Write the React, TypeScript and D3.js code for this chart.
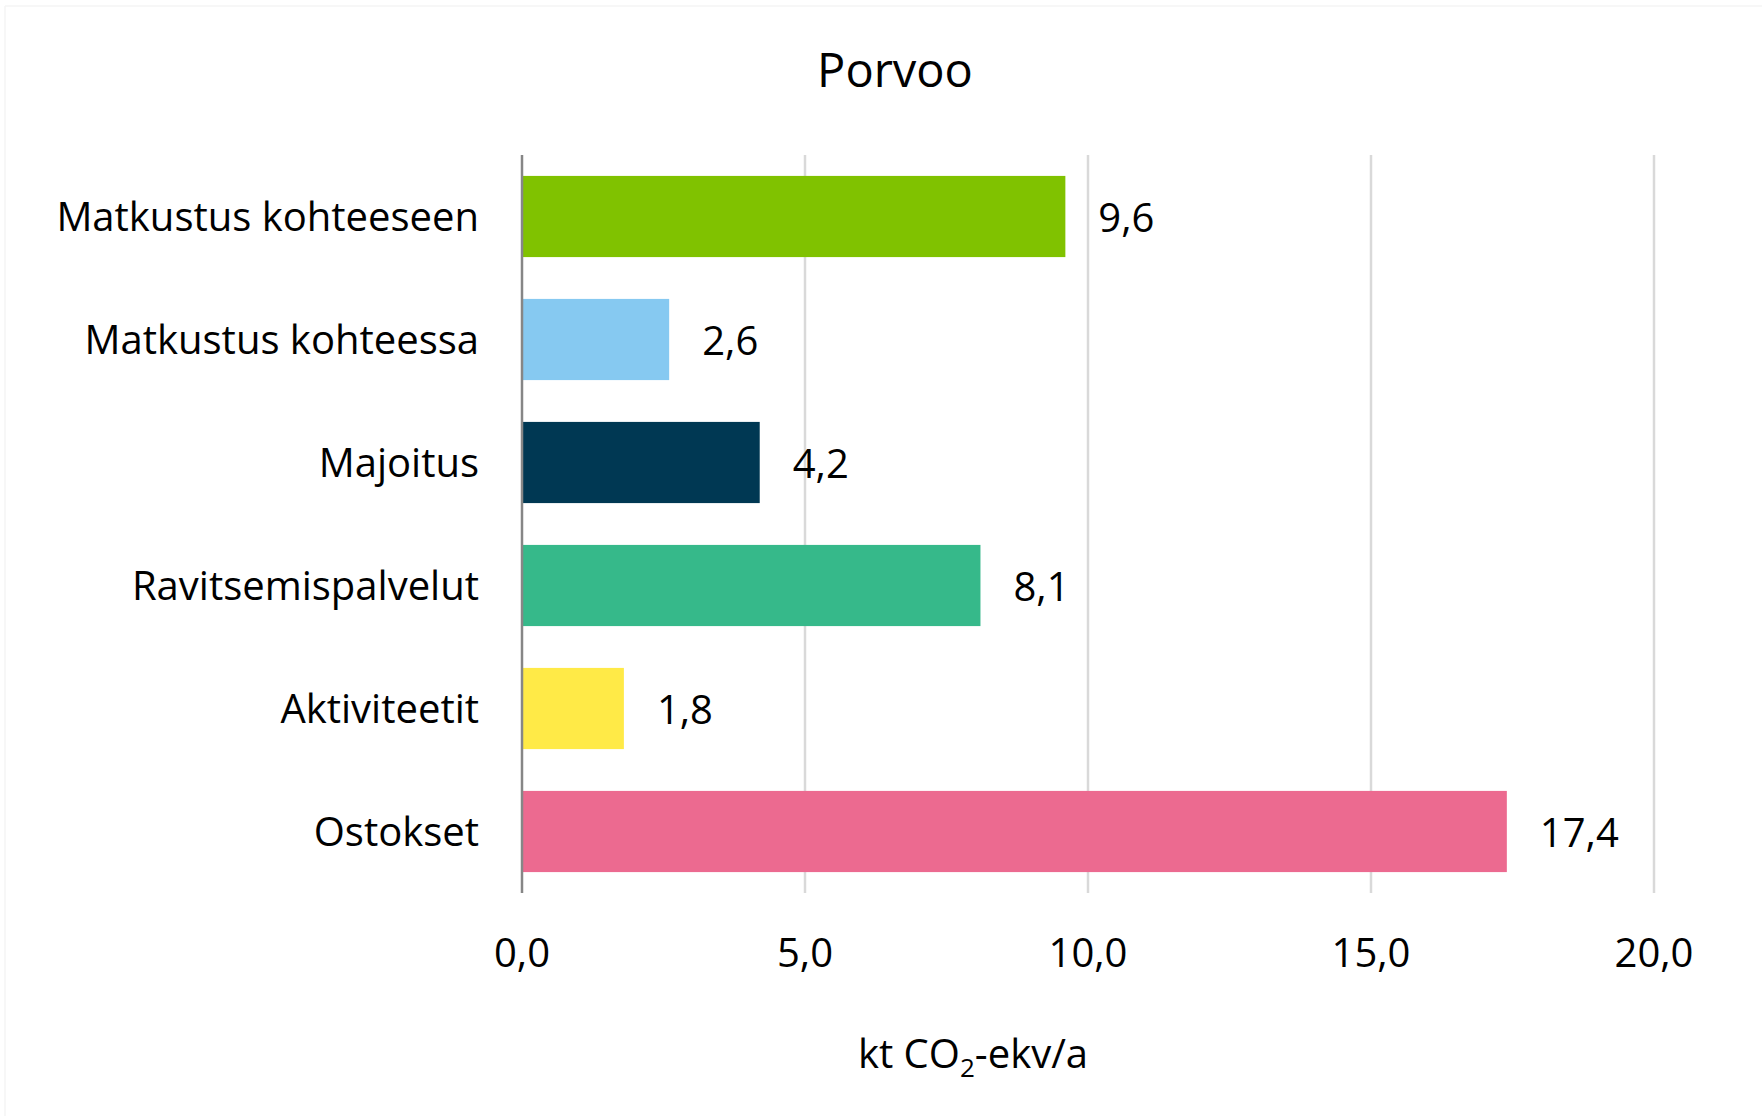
import React from "react";
import * as d3 from "d3";

const categories = [
  "Matkustus kohteeseen",
  "Matkustus kohteessa",
  "Majoitus",
  "Ravitsemispalvelut",
  "Aktiviteetit",
  "Ostokset",
];
const values = [9.6, 2.6, 4.2, 8.1, 1.8, 17.4];
const colors = ["#80c200", "#86c9f1", "#003853", "#36b98a", "#ffea47", "#ec6a90"];
const ticks = [0, 5, 10, 15, 20];

const W = 1762;
const H = 1116;
const margin = { top: 155, right: 108, bottom: 223, left: 522 };
const FONT = "'Open Sans', 'Noto Sans', sans-serif";

const fmt = (v: number) => v.toFixed(1).replace(".", ",");

export default function App() {
  const x = d3
    .scaleLinear()
    .domain([0, 20])
    .range([margin.left, W - margin.right]);

  const y = d3
    .scaleBand()
    .domain(categories)
    .range([margin.top, H - margin.bottom])
    .paddingInner(0.34)
    .paddingOuter(0.17);

  const plotTop = margin.top;
  const plotBottom = H - margin.bottom;

  return (
    <svg
      width={W}
      height={H}
      style={{ position: "absolute", left: 0, top: 0, display: "block", background: "#fff" }}
      fontFamily={FONT}
    >
      {/* faint outer frame, only top and left show */}
      <line x1={5} x2={W} y1={6} y2={6} stroke="#f5f5f5" strokeWidth={1.5} />
      <line x1={5} x2={5} y1={6} y2={H} stroke="#f5f5f5" strokeWidth={1.5} />

      {/* title */}
      <text x={895} y={87} textAnchor="middle" fontSize={47} fill="#000">
        Porvoo
      </text>

      {/* gridlines */}
      {ticks.slice(1).map(t => (
        <line
          key={t}
          x1={x(t)}
          x2={x(t)}
          y1={plotTop}
          y2={plotBottom}
          stroke="#d9d9d9"
          strokeWidth={2.5}
        />
      ))}

      {/* bars */}
      {categories.map((c, i) => (
        <rect
          key={c}
          x={x(0)}
          y={y(c)}
          width={x(values[i]) - x(0)}
          height={y.bandwidth()}
          fill={colors[i]}
        />
      ))}

      {/* value axis line */}
      <line x1={x(0)} x2={x(0)} y1={plotTop} y2={plotBottom} stroke="#868686" strokeWidth={2.5} />

      {/* category labels */}
      {categories.map(c => (
        <text
          key={c}
          x={479}
          y={(y(c) as number) + y.bandwidth() / 2 + 14}
          textAnchor="end"
          fontSize={40}
          fill="#000"
        >
          {c}
        </text>
      ))}

      {/* value labels */}
      {categories.map((c, i) => (
        <text
          key={c}
          x={x(values[i]) + 33}
          y={(y(c) as number) + y.bandwidth() / 2 + 15}
          fontSize={40}
          fill="#000"
        >
          {fmt(values[i])}
        </text>
      ))}

      {/* tick labels */}
      {ticks.map(t => (
        <text key={t} x={x(t)} y={967} textAnchor="middle" fontSize={40} fill="#000">
          {fmt(t)}
        </text>
      ))}

      {/* axis title */}
      <text x={973} y={1068} textAnchor="middle" fontSize={40} fill="#000">
        kt CO
        <tspan fontSize={26} dy={9}>2</tspan>
        <tspan dy={-9}>-ekv/a</tspan>
      </text>
    </svg>
  );
}
